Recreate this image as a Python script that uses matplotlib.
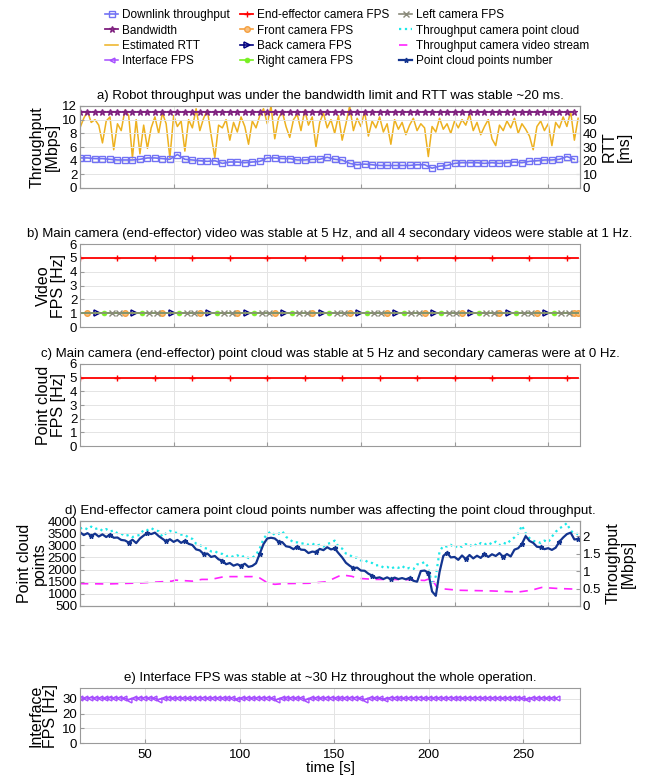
import numpy as np
import matplotlib
matplotlib.use("Agg")
import matplotlib.pyplot as plt

plt.rcParams['font.family'] = ['Liberation Sans', 'DejaVu Sans']

# ---------------- data ----------------
# Panel a (time step 4 s for throughput, 2 s for RTT)
thr_dt = 4
downlink_mbps = [4.4, 4.4, 4.3, 4.3, 4.2, 4.1, 4.1, 4.1, 4.2, 4.4, 4.4, 4.3, 4.2, 4.9, 4.2, 4.1, 4.0,
                 3.9, 4.0, 3.6, 3.8, 3.8, 3.7, 3.8, 3.9, 4.4, 4.4, 4.3, 4.3, 4.1, 4.1, 4.2, 4.2, 4.5,
                 4.2, 4.1, 3.6, 3.4, 3.5, 3.4, 3.3, 3.3, 3.3, 3.3, 3.3, 3.4, 3.4, 2.9, 3.2, 3.3, 3.6,
                 3.7, 3.7, 3.7, 3.6, 3.7, 3.6, 3.7, 3.8, 3.7, 3.9, 4.0, 4.1, 4.1, 4.2, 4.6, 4.2]
bandwidth_mbps = 11.1
rtt_dt = 2
rtt_ms = [44, 51, 56, 48, 50, 46, 33, 49, 52, 28, 47, 42, 57, 53, 22, 50, 25, 46, 29, 44,
          52, 40, 55, 47, 22, 53, 45, 49, 27, 50, 44, 58, 42, 51, 57, 39, 22, 46, 44, 50,
          35, 48, 41, 52, 45, 32, 49, 44, 53, 58, 47, 60, 36, 51, 56, 45, 37, 50, 54, 42,
          57, 46, 52, 30, 48, 55, 44, 50, 40, 53, 35, 47, 60, 42, 51, 45, 56, 38, 49, 44,
          52, 41, 47, 32, 50, 43, 48, 39, 46, 51, 42, 47, 44, 23, 45, 41, 51, 43, 47, 40,
          49, 44, 50, 46, 54, 42, 48, 39, 45, 50, 36, 31, 46, 42, 49, 44, 51, 40, 47, 43,
          38, 28, 45, 49, 42, 47, 31, 48, 44, 52, 45, 56, 35, 51]

# Panels b, c (1 s sampling)
video_t_end = 266
ee_video_fps = 5
front_fps = 1
back_fps = 1
right_fps = 1
left_fps = 1
ee_pc_fps = 5

# Panel d (2 s sampling)
pc_dt = 2
pc_points = [3540, 3420, 3500, 3380, 3480, 3360, 3450, 3340, 3440, 3310, 3320, 3220, 3200, 3110,
             3230, 3090, 3280, 3400, 3510, 3460, 3520, 3380, 3270, 3160, 3250, 3140, 3220, 3100,
             3190, 3060, 3010, 2830, 2790, 2640, 2660, 2520, 2560, 2420, 2370, 2220, 2270, 2160,
             2220, 2150, 2240, 2110, 2150, 2260, 2650, 3050, 3280, 3310, 3280, 3150, 3130, 2960,
             2930, 2840, 2950, 2820, 2810, 2680, 2740, 2720, 2850, 2800, 2920, 2830, 2870, 2680,
             2500, 2280, 2160, 2060, 2080, 1960, 1950, 1830, 1750, 1650, 1680, 1610, 1680, 1600,
             1670, 1610, 1650, 1600, 1660, 1540, 1500, 1940, 1960, 1870, 1100, 920, 1900, 2560,
             2700, 2500, 2520, 2400, 2580, 2430, 2600, 2460, 2570, 2480, 2650, 2520, 2630, 2560,
             2680, 2520, 2640, 2540, 2820, 2880, 3060, 3380, 3180, 3100, 2940, 2920, 2840, 2880,
             2810, 2900, 3150, 3320, 3460, 3520, 3240, 3260]
pc_thr_mbps = [2.21, 2.25, 2.19, 2.27, 2.20, 2.23, 2.15, 2.20, 2.13, 2.16, 2.08, 2.07, 2.00, 2.03,
               1.97, 2.01, 2.03, 2.18, 2.17, 2.23, 2.16, 2.14, 1.98, 2.08, 2.15, 2.10, 2.09, 2.04,
               2.04, 1.95, 1.92, 1.78, 1.75, 1.66, 1.64, 1.56, 1.57, 1.50, 1.49, 1.42, 1.45, 1.40,
               1.45, 1.39, 1.44, 1.37, 1.38, 1.46, 1.65, 1.92, 2.06, 2.13, 2.03, 2.06, 2.14, 1.98,
               1.90, 1.82, 1.82, 1.78, 1.80, 1.75, 1.79, 1.72, 1.75, 1.70, 1.78, 1.80, 1.87, 1.70,
               1.64, 1.50, 1.46, 1.38, 1.38, 1.30, 1.32, 1.24, 1.23, 1.16, 1.17, 1.10, 1.12, 1.06,
               1.12, 1.09, 1.15, 1.06, 1.09, 1.05, 1.19, 1.20, 1.26, 1.11, 0.60, 0.85, 1.56, 1.72,
               1.70, 1.75, 1.66, 1.74, 1.69, 1.77, 1.70, 1.79, 1.72, 1.80, 1.75, 1.82, 1.76, 1.84,
               1.74, 1.81, 1.77, 1.89, 1.96, 2.07, 2.30, 2.08, 1.94, 1.86, 1.85, 1.80, 1.87, 1.82,
               1.98, 2.12, 2.22, 2.28, 2.37, 2.14, 2.10, 2.05]
video_thr_t = [0, 15, 33, 49, 51, 60, 65, 70, 77, 92, 96, 100.5, 104, 109, 122, 131, 134.4,
               139.7, 145, 148.6, 157.5, 166.4, 177, 184, 187.7, 190.4, 192, 202, 220, 234,
               241, 246.5, 255.4, 266]
video_thr_mbps = [0.64, 0.63, 0.66, 0.71, 0.74, 0.71, 0.76, 0.76, 0.84, 0.84, 0.80, 0.65, 0.62,
                  0.64, 0.65, 0.69, 0.76, 0.89, 0.85, 0.79, 0.76, 0.76, 0.75, 0.73, 0.80, 0.55,
                  0.50, 0.45, 0.43, 0.40, 0.45, 0.53, 0.50, 0.48]

# Panel e
ui_t0 = 15.5
ui_dt = 2.6
ui_fps = [30.6, 30.4, 30.7, 30.5, 30.6, 30.3, 30.7, 30.5, 30.6, 30.4, 29.4, 30.6, 30.5, 30.7,
          30.4, 30.6, 29.5, 30.5, 30.7, 30.4, 30.6, 30.5, 30.3, 30.6, 30.5, 30.7, 30.4, 30.6,
          30.5, 30.6, 30.4, 30.7, 29.6, 30.5, 30.6, 30.4, 30.6, 30.5, 30.7, 30.4, 29.4, 30.6,
          30.5, 30.6, 30.4, 30.7, 29.3, 30.5, 30.6, 30.4, 30.6, 30.7, 30.5, 30.4, 30.6, 30.5,
          30.7, 30.4, 29.5, 30.6, 30.5, 30.4, 29.6, 30.6, 30.7, 30.5, 30.4, 30.6, 30.5, 30.8,
          30.4, 30.6, 30.5, 30.6, 30.4, 30.7, 30.5, 30.6, 30.4, 30.6, 30.5, 30.7, 30.4, 30.6,
          30.5, 30.6, 30.4, 30.6, 30.5, 30.7, 30.4, 29.6, 30.6, 30.5, 30.6, 30.4, 30.6, 30.5]

titles = ["a) Robot throughput was under the bandwidth limit and RTT was stable ~20 ms.",
          "b) Main camera (end-effector) video was stable at 5 Hz, and all 4 secondary videos were stable at 1 Hz.",
          "c) Main camera (end-effector) point cloud was stable at 5 Hz and secondary cameras were at 0 Hz.",
          "d) End-effector camera point cloud points number was affecting the point cloud throughput.",
          "e) Interface FPS was stable at ~30 Hz throughout the whole operation."]
xticks = [50, 100, 150, 200, 250]

# ---------------- figure ----------------
W, H = 649, 777
fig = plt.figure(figsize=(W / 100, H / 100), dpi=100)

def box(top, bottom, left=80, right=580):
    return [left / W, 1 - bottom / H, (right - left) / W, (bottom - top) / H]

SP = '#9a9a9a'
GR = '#e4e4e4'
TFS = 9.5   # title size
TKS = 9.5   # tick size
LBS = 11.5  # label size

def style(ax, xl, yl, yt, xlab=False):
    ax.set_xlim(*xl)
    ax.set_ylim(*yl)
    ax.set_yticks(yt)
    ax.set_xticks(xticks)
    ax.grid(True, color=GR, lw=0.7)
    ax.set_axisbelow(True)
    for s in ax.spines.values():
        s.set_color(SP)
        s.set_linewidth(0.8)
    ax.tick_params(direction='in', length=3, color=SP, labelsize=TKS, pad=2)
    if not xlab:
        ax.tick_params(axis='x', labelbottom=False)

def style_right(ax):
    for s in ax.spines.values():
        s.set_color(SP)
        s.set_linewidth(0.8)
    ax.tick_params(direction='in', length=3, color=SP, labelsize=TKS, pad=2)

XL = (0, 267)

# Panel a
axa = fig.add_axes(box(106, 188))
t_thr = np.arange(len(downlink_mbps)) * thr_dt
h_dl, = axa.plot(t_thr, downlink_mbps, color='#7272F4', marker='s', ms=4, mfc='none', mew=1,
                 lw=1.2, label='Downlink throughput')
h_bw, = axa.plot(t_thr, np.full(len(t_thr), bandwidth_mbps), color='#7E1F7E', marker='*', ms=5,
                 mfc='none', mew=0.9, lw=1.3, label='Bandwidth')
style(axa, XL, (0, 12), [0, 2, 4, 6, 8, 10, 12])
axa.set_ylabel('Throughput\n[Mbps]', fontsize=LBS, labelpad=2, linespacing=1.0)
axa.set_title(titles[0], fontsize=TFS, pad=5)
axa2 = axa.twinx()
t_rtt = np.arange(len(rtt_ms)) * rtt_dt
h_rtt, = axa2.plot(t_rtt, rtt_ms, color='#EDB120', lw=1.1, label='Estimated RTT')
axa2.set_ylim(0, 60)
axa2.set_yticks([0, 10, 20, 30, 40, 50])
style_right(axa2)
axa2.set_ylabel('RTT\n[ms]', fontsize=LBS, labelpad=3, linespacing=1.0)
axa.set_zorder(axa2.get_zorder() + 1)
axa.patch.set_visible(False)

# Panel b
axb = fig.add_axes(box(244, 327))
t_v = np.arange(0, video_t_end + 1)
n = len(t_v)
h_ee, = axb.plot(t_v, np.full(n, ee_video_fps), color='#FF0000', lw=1.3, marker='+', ms=5,
                 mew=1, markevery=(0, 20), label='End-effector camera FPS')
h_fr, = axb.plot(t_v, np.full(n, front_fps), color='#F5A040', lw=1.2, marker='o', ms=4,
                 mfc='#F8C080', mew=1, markevery=list(range(4, n, 20)) + [n - 1], label='Front camera FPS')
h_bk, = axb.plot(t_v, np.full(n, back_fps), color='#00007F', lw=1.2, marker='>', ms=4,
                 mfc='none', mew=1.1, markevery=(9, 20), label='Back camera FPS')
h_rt, = axb.plot(t_v, np.full(n, right_fps), color='#77F020', lw=1.2, marker='o', ms=3.5,
                 mew=0.5, markevery=(13, 20), label='Right camera FPS')
h_lf, = axb.plot(t_v, np.full(n, left_fps), color='#8a8a7a', lw=1.2, marker='x', ms=4,
                 mew=1, markevery=sorted(list(range(17, n, 20)) + list(range(21, n, 20))),
                 label='Left camera FPS')
style(axb, XL, (0, 6), [0, 1, 2, 3, 4, 5, 6])
axb.set_ylabel('Video\nFPS [Hz]', fontsize=LBS, labelpad=3, linespacing=1.0)
axb.set_title(titles[1], fontsize=TFS, pad=5)

# Panel c
axc = fig.add_axes(box(364, 446))
axc.plot(t_v, np.full(n, ee_pc_fps), color='#FF0000', lw=1.3, marker='+', ms=5, mew=1,
         markevery=(0, 20))
style(axc, XL, (0, 6), [0, 1, 2, 3, 4, 5, 6])
axc.set_ylabel('Point cloud\nFPS [Hz]', fontsize=LBS, labelpad=3, linespacing=1.0)
axc.set_title(titles[2], fontsize=TFS, pad=5)

# Panel d
axd = fig.add_axes(box(521, 606))
t_pc = np.arange(len(pc_points)) * pc_dt
style(axd, XL, (500, 4000), [500, 1000, 1500, 2000, 2500, 3000, 3500, 4000])
axd.set_ylabel('Point cloud\npoints', fontsize=LBS, labelpad=0.5, linespacing=1.0)
axd.set_title(titles[3], fontsize=TFS, pad=5)
axd2 = axd.twinx()
h_pct, = axd2.plot(t_pc, pc_thr_mbps, color='#1EE8E8', lw=1.6, ls=':', label='Throughput camera point cloud')
h_vt, = axd2.plot(video_thr_t, video_thr_mbps, color='#FF22FF', lw=1.2, ls=(0, (5, 4)),
                  label='Throughput camera video stream')
axd2.set_ylim(0, 2.43)
axd2.set_yticks([0, 0.5, 1, 1.5, 2])
axd2.set_yticklabels(['0', '0.5', '1', '1.5', '2'])
style_right(axd2)
axd2.set_ylabel('Throughput\n[Mbps]', fontsize=LBS, labelpad=3, linespacing=1.0)
axd.set_zorder(axd2.get_zorder() + 1)
axd.patch.set_visible(False)
h_pcp, = axd.plot(t_pc, pc_points, color='#13348F', lw=1.6, marker='*', ms=3.5, markevery=(3, 5),
                  label='Point cloud points number')

# Panel e
axe = fig.add_axes(box(688, 743))
t_ui = ui_t0 + np.arange(len(ui_fps)) * ui_dt
h_ui, = axe.plot(t_ui, ui_fps, color='#A64DFF', lw=1.1, marker='<', ms=3.5, mfc='none', mew=1,
                 label='Interface FPS')
style(axe, (15.5, 280), (0, 37.3), [0, 10, 20, 30], xlab=True)
axe.tick_params(axis='x', pad=4)
axe.set_ylabel('Interface\nFPS [Hz]', fontsize=LBS, labelpad=3, linespacing=1.0)
axe.set_xlabel('time [s]', fontsize=11, labelpad=0.5)
axe.set_title(titles[4], fontsize=TFS, pad=5)

handles = [h_dl, h_bw, h_rtt, h_ui, h_ee, h_fr, h_bk, h_rt, h_lf, h_pct, h_vt, h_pcp]
fig.legend(handles=handles, loc='upper center', bbox_to_anchor=(0.535, 0.997), ncol=3,
           frameon=False, fontsize=8.5, handlelength=1.1, handletextpad=0.3,
           columnspacing=0.9, labelspacing=0.27, borderaxespad=0.2)

fig.savefig('out.png', dpi=100)
